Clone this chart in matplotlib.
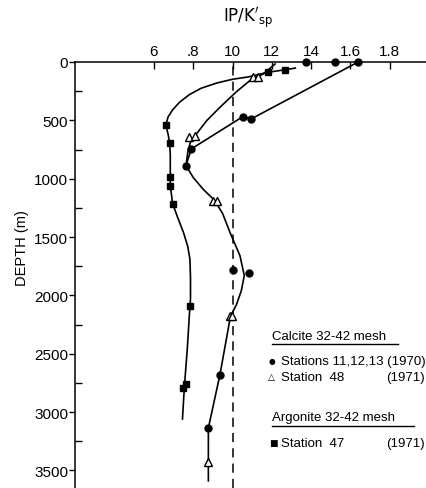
import matplotlib
matplotlib.use("Agg")
import matplotlib.pyplot as plt
from matplotlib.lines import Line2D

# ---- data (IP/K'sp, depth m) ----
# Aragonite, Station 47 (1971) - line
arag_line_x = [1.32, 1.27, 1.18, 1.08, 1.0, 0.92, 0.84, 0.78, 0.73, 0.695, 0.672, 0.66, 0.672, 0.68, 0.683, 0.683, 0.683, 0.695, 0.72, 0.75, 0.772, 0.783, 0.786, 0.786, 0.783, 0.77, 0.755, 0.745]
arag_line_d = [52, 66, 88, 128, 148, 180, 225, 280, 345, 410, 470, 540, 620, 694, 800, 988, 1060, 1214, 1330, 1460, 1580, 1690, 1850, 2031, 2094, 2450, 2780, 3060]
arag_pts_x = [1.18, 1.27, 0.66, 0.68, 0.683, 0.683, 0.695, 0.783, 0.746, 0.763]
arag_pts_d = [88, 66, 540, 694, 988, 1060, 1214, 2094, 2794, 2760]

# Calcite, Station 48 (1971) + lower common curve - line
st48_line_x = [1.217, 1.156, 1.13, 1.106, 1.02, 0.936, 0.87, 0.81, 0.785, 0.772, 0.763, 0.80, 0.85, 0.91, 0.95, 0.987, 1.038, 1.06, 1.045, 1.02, 0.99, 0.936, 0.877, 0.877, 0.877]
st48_line_d = [17, 103, 125, 135, 255, 388, 500, 630, 690, 774, 888, 990, 1090, 1188, 1300, 1460, 1660, 1830, 1960, 2080, 2177, 2680, 3137, 3431, 3590]
st48_pts_x = [1.106, 1.13, 0.78, 0.81, 0.90, 0.92, 0.985, 0.997, 0.877]
st48_pts_d = [131, 131, 640, 630, 1188, 1188, 2174, 2180, 3431]

# Calcite, Stations 11,12,13 (1970) - line
st70_line_x = [1.64, 1.094, 1.052, 0.79, 0.763]
st70_line_d = [0, 489, 469, 745, 888]
st70_pts_x = [1.375, 1.52, 1.64, 1.052, 1.094, 0.79, 0.763, 1.0, 1.086, 0.936, 0.877]
st70_pts_d = [0, 0, 0, 469, 489, 745, 888, 1783, 1809, 2680, 3137]

x_ticks = [0.6, 0.8, 1.0, 1.2, 1.4, 1.6, 1.8]
x_ticklabels = ["6", ".8", "10", "12", "14", "1.6", "1.8"]
y_ticks = [0, 500, 1000, 1500, 2000, 2500, 3000, 3500]
y_ticklabels = ["0", "500", "1000", "1500", "2000", "2500", "3000", "3500"]

plt.rcParams["font.family"] = ["Liberation Sans", "DejaVu Sans"]

W, H = 427, 489
fig = plt.figure(figsize=(W / 100, H / 100), dpi=100)
ax = fig.add_axes([75 / W, 0.0, 1 - 75 / W, 1 - 63 / H])

ax.set_xlim(0.1975, 1.991)
ax.set_ylim(3651, 0)

lw = 1.2
ax.plot(arag_line_x, arag_line_d, color="black", lw=lw, zorder=2)
ax.plot(st48_line_x, st48_line_d, color="black", lw=lw, zorder=2)
ax.plot(st70_line_x, st70_line_d, color="black", lw=lw, zorder=2)
ax.axvline(1.0, color="black", lw=1.1, ls=(0, (6, 4)), zorder=1)

ax.plot(arag_pts_x, arag_pts_d, ls="none", marker="s", ms=4.5, color="black", zorder=3, clip_on=False)
ax.plot(st70_pts_x, st70_pts_d, ls="none", marker="o", ms=5, color="black", zorder=3, clip_on=False)
ax.plot(st48_pts_x, st48_pts_d, ls="none", marker="^", ms=6, mfc="white", mec="black", mew=1.0, zorder=4, clip_on=False)

# axes styling
for s in ["right", "bottom"]:
    ax.spines[s].set_visible(False)
ax.spines["top"].set_linewidth(1.1)
ax.spines["left"].set_linewidth(1.1)

ax.xaxis.set_ticks_position("top")
ax.xaxis.set_label_position("top")
ax.set_xticks(x_ticks)
ax.set_xticklabels(x_ticklabels, fontsize=11)
ax.tick_params(axis="x", direction="in", length=5, width=1, pad=3)

ax.set_yticks(y_ticks)
ax.set_yticklabels(y_ticklabels, fontsize=11)
ax.set_yticks([250, 750, 1250, 1750, 2250, 2750, 3250], minor=True)
ax.tick_params(axis="y", which="major", direction="out", length=4, width=1, pad=1)
ax.tick_params(axis="y", which="minor", direction="in", length=5, width=1)

fig.text(248 / W, 1 - 18 / H, r"$\mathrm{IP/K}'_{\mathrm{sp}}$", fontsize=12, ha="center", va="center")
fig.text(22 / W, 1 - 248 / H, "DEPTH (m)", rotation=90, fontsize=10.5, ha="center", va="center")

# legend text
def ftxt(x, y, s, **kw):
    fig.text(x / W, 1 - y / H, s, va="center", **kw)

fs = 9.5
ftxt(272, 337, "Calcite 32-42 mesh", fontsize=fs)
fig.add_artist(Line2D([272 / W, 398 / W], [1 - 345 / H, 1 - 345 / H], color="black", lw=1))
ftxt(269, 362, "\u25CF", fontsize=5.5, family="DejaVu Sans")
ftxt(281, 362, "Stations 11,12,13 (1970)", fontsize=fs)
ftxt(268, 378, "\u25B3", fontsize=6.5, family="DejaVu Sans")
ftxt(281, 378, "Station  48", fontsize=fs)
ftxt(386, 378, "(1971)", fontsize=fs)
ftxt(272, 418, "Argonite 32-42 mesh", fontsize=fs)
fig.add_artist(Line2D([272 / W, 414 / W], [1 - 427 / H, 1 - 427 / H], color="black", lw=1))
ftxt(269, 444, "\u25A0", fontsize=6.5, family="DejaVu Sans")
ftxt(281, 444, "Station  47", fontsize=fs)
ftxt(386, 444, "(1971)", fontsize=fs)

fig.savefig("out.png", dpi=100)
